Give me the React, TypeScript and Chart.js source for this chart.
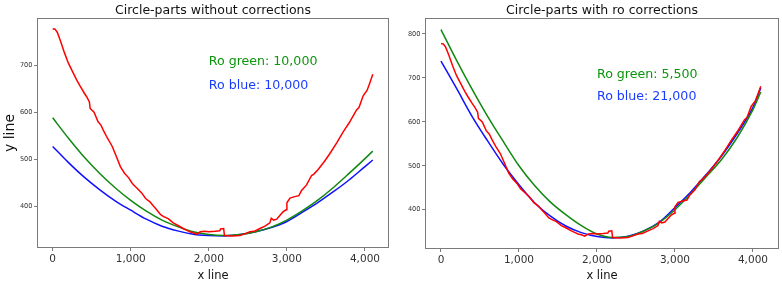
import React, { useEffect, useRef } from 'react';
import { Chart, registerables } from 'chart.js';

Chart.register(...registerables);

const FONT = '"DejaVu Sans", "Liberation Sans", sans-serif';
const GREEN = '#118811';
const BLUE = '#1010ff';
const RED = '#ff0000';
const TEXT_GREEN = '#0a950a';
const TEXT_BLUE = '#1a3cff';

// shared x positions for the fitted circle-part curves
const curveX = [0, 200, 400, 600, 800, 1000, 1200, 1400, 1600, 1800, 2000, 2200, 2400, 2600, 2800, 3000, 3200, 3400, 3600, 3800, 4000, 4100];

// left chart: without corrections
const leftGreenY = [588, 545, 505, 470, 439, 412, 389, 370, 356, 345, 339, 337, 339, 345, 355, 370, 390, 413, 440, 470, 501, 517];
const leftBlueY = [527, 493, 462, 435, 411, 391, 372, 357, 347, 340, 337, 336, 339, 345, 354, 367, 387, 408, 431, 456, 484, 498];

// right chart: with ro corrections
const rightGreenY = [810, 740, 674, 612, 555, 500, 455, 418, 389, 364, 345, 337, 339, 352, 371, 400, 436, 475, 515, 565, 628, 668];
const rightBlueY = [738, 676, 612, 556, 503, 457, 416, 386, 363, 348, 339, 336, 340, 352, 372, 405, 440, 480, 523, 574, 633, 677];

// measured (red) line, same in both charts
const redX = [0, 30, 60, 100, 150, 200, 250, 307, 350, 400, 435, 470, 480, 530, 580, 620, 653, 700, 760, 800, 867, 920, 974, 1020, 1081, 1140, 1190, 1246, 1290, 1332, 1380, 1416, 1480, 1544, 1600, 1672, 1720, 1758, 1800, 1844, 1890, 1950, 2000, 2080, 2140, 2150, 2190, 2200, 2300, 2398, 2450, 2526, 2580, 2654, 2720, 2782, 2800, 2830, 2870, 2920, 2953, 2990, 3000, 3040, 3100, 3154, 3188, 3252, 3316, 3346, 3400, 3480, 3551, 3640, 3721, 3800, 3892, 3923, 3977, 4028, 4063, 4100];
const redY = [778, 777, 770, 752, 727, 705, 688, 669, 656, 642, 633, 622, 608, 600, 580, 572, 560, 545, 528, 512, 484, 470, 460, 448, 438, 428, 416, 409, 400, 392, 382, 378, 373, 364, 359, 352, 348, 345, 343, 340, 345, 346, 345, 346, 347, 351, 352, 337, 336, 337, 340, 345, 346, 352, 357, 364, 374, 370, 372, 382, 388, 392, 407, 417, 420, 422, 433, 445, 465, 468, 478, 495, 512, 535, 558, 578, 605, 610, 635, 647, 663, 681];

const xTickValues = [0, 1000, 2000, 3000, 4000];
const xTickLabels = ['0', '1,000', '2,000', '3,000', '4,000'];
const leftYTicks = [400, 500, 600, 700];
const rightYTicks = [400, 500, 600, 700, 800];

const leftTitle = 'Circle-parts without corrections';
const rightTitle = 'Circle-parts with ro corrections';
const xLabel = 'x line';
const yLabel = 'y line';

const noteX = [2000, 2000];
const noteY = [700, 650];
const leftNoteTexts = ['Ro green: 10,000', 'Ro blue: 10,000'];
const rightNoteTexts = ['Ro green: 5,500', 'Ro blue: 21,000'];
const noteColors = [TEXT_GREEN, TEXT_BLUE];

const zip = (xs: number[], ys: number[]) => xs.map((x, i) => ({ x, y: ys[i] }));

const framePlugin = {
  id: 'frame',
  afterDraw(chart: any) {
    const { ctx, chartArea } = chart;
    ctx.save();
    ctx.strokeStyle = '#7a7a7a';
    ctx.lineWidth = 1;
    ctx.strokeRect(chartArea.left - 0.5, chartArea.top - 0.5, chartArea.right - chartArea.left + 1, chartArea.bottom - chartArea.top + 1);
    ctx.restore();
  },
};

const notesPlugin = {
  id: 'notes',
  afterDatasetsDraw(chart: any, _args: any, opts: any) {
    const { ctx, scales } = chart;
    const texts: string[] = opts.texts || [];
    ctx.save();
    ctx.font = '12.6px ' + FONT;
    ctx.textAlign = 'left';
    ctx.textBaseline = 'alphabetic';
    texts.forEach((t, i) => {
      ctx.fillStyle = noteColors[i];
      ctx.fillText(t, scales.x.getPixelForValue(noteX[i]), scales.y.getPixelForValue(noteY[i]));
    });
    ctx.restore();
  },
};

interface Params {
  title: string;
  green: number[];
  blue: number[];
  xMin: number;
  xMax: number;
  yMin: number;
  yMax: number;
  yTicks: number[];
  yAxisW: number;
  xAxisH: number;
  padRight: number;
  showYLabel: boolean;
  notes: string[];
}

function makeConfig(p: Params): any {
  const line = { showLine: true, pointRadius: 0, pointHoverRadius: 0, borderWidth: 1.5, fill: false };
  return {
    type: 'scatter',
    data: {
      datasets: [
        { ...line, data: zip(redX, redY), borderColor: RED, tension: 0 },
        { ...line, data: zip(curveX, p.green), borderColor: GREEN, cubicInterpolationMode: 'monotone' },
        { ...line, data: zip(curveX, p.blue), borderColor: BLUE, cubicInterpolationMode: 'monotone' },
      ],
    },
    options: {
      responsive: false,
      animation: false,
      devicePixelRatio: 1,
      layout: { padding: { left: 0, right: p.padRight, top: 0, bottom: 0 } },
      plugins: {
        legend: { display: false },
        tooltip: { enabled: false },
        title: {
          display: true,
          text: p.title,
          fullSize: false,
          color: '#111',
          font: { family: FONT, size: 12.5, weight: 'normal', lineHeight: 1.2 },
          padding: { top: 3.5, bottom: 0.5 },
        },
        notes: { texts: p.notes },
      },
      scales: {
        x: {
          type: 'linear',
          min: p.xMin,
          max: p.xMax,
          afterFit: (s: any) => { s.height = p.xAxisH; },
          afterBuildTicks: (s: any) => { s.ticks = xTickValues.map((v) => ({ value: v })); },
          ticks: {
            callback: (v: number) => { const i = xTickValues.indexOf(v); return i >= 0 ? xTickLabels[i] : ''; },
            font: { family: FONT, size: 10.5 },
            color: '#333',
            padding: 2,
            maxRotation: 0,
            autoSkip: false,
          },
          grid: { drawOnChartArea: false, drawTicks: true, tickLength: 4, tickColor: '#7a7a7a' },
          border: { display: false },
          title: { display: true, text: xLabel, color: '#111', font: { family: FONT, size: 11.5, lineHeight: 1.2 }, padding: { top: 0, bottom: 2.5 } },
        },
        y: {
          type: 'linear',
          min: p.yMin,
          max: p.yMax,
          afterFit: (s: any) => { s.width = p.yAxisW; },
          afterBuildTicks: (s: any) => { s.ticks = p.yTicks.map((v) => ({ value: v })); },
          ticks: {
            callback: (v: number) => String(v),
            font: { family: FONT, size: 6.6 },
            color: '#333',
            padding: 1.5,
            autoSkip: false,
          },
          grid: { drawOnChartArea: false, drawTicks: true, tickLength: 4, tickColor: '#7a7a7a' },
          border: { display: false },
          title: { display: p.showYLabel, text: yLabel, color: '#111', font: { family: FONT, size: 14, lineHeight: 1.2 }, padding: { top: 1.6, bottom: 0 } },
        },
      },
    },
    plugins: [framePlugin, notesPlugin],
  };
}

function ChartCanvas({ params, width, height, left }: { params: Params; width: number; height: number; left: number }) {
  const ref = useRef<HTMLCanvasElement | null>(null);
  useEffect(() => {
    if (!ref.current) return;
    const chart = new Chart(ref.current, makeConfig(params));
    return () => chart.destroy();
  }, []);
  return (
    <canvas
      ref={ref}
      width={width}
      height={height}
      style={{ position: 'absolute', left, top: 0, width, height, display: 'block' }}
    />
  );
}

export default function App() {
  const leftParams: Params = {
    title: leftTitle,
    green: leftGreenY,
    blue: leftBlueY,
    xMin: -188,
    xMax: 4295,
    yMin: 312.6,
    yMax: 798.7,
    yTicks: leftYTicks,
    yAxisW: 38,
    xAxisH: 38,
    padRight: 7,
    showYLabel: true,
    notes: leftNoteTexts,
  };
  const rightParams: Params = {
    title: rightTitle,
    green: rightGreenY,
    blue: rightBlueY,
    xMin: -192,
    xMax: 4321,
    yMin: 313,
    yMax: 834,
    yTicks: rightYTicks,
    yAxisW: 31,
    xAxisH: 37,
    padRight: 4,
    showYLabel: false,
    notes: rightNoteTexts,
  };
  return (
    <div style={{ position: 'absolute', left: 0, top: 0, width: 782, height: 285, background: '#fff' }}>
      <ChartCanvas params={leftParams} width={395} height={285} left={0} />
      <ChartCanvas params={rightParams} width={387} height={285} left={395} />
    </div>
  );
}
